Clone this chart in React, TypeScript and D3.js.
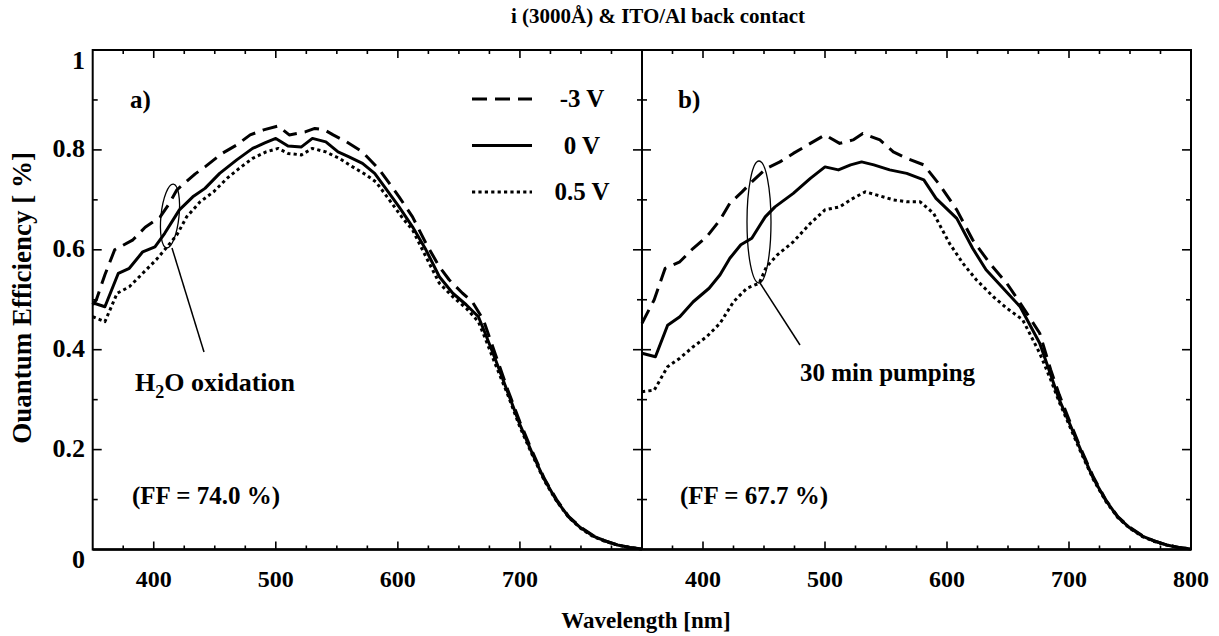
import React from "react";
import * as d3 from "d3";

type Pt = [number, number];

const titleText = "i (3000Å) & ITO/Al back contact";
const xTicksA = [400, 500, 600, 700];
const xTicksB = [400, 500, 600, 700, 800];
const yTickLabels = ["0", "0.2", "0.4", "0.6", "0.8", "1"];
const yTickValues = [0, 0.2, 0.4, 0.6, 0.8, 1];
const legendLabels = ["-3 V", "0 V", "0.5 V"];

const aNeg3: Pt[] = [[350,0.49],[353,0.5],[360,0.55],[368,0.6],[383,0.62],[393,0.645],[405,0.665],[412,0.69],[419,0.72],[434,0.752],[442,0.766],[456,0.793],[468,0.81],[479,0.83],[490,0.84],[502,0.848],[511,0.83],[524,0.836],[532,0.843],[540,0.84],[547,0.83],[558,0.816],[571,0.796],[585,0.76],[601,0.706],[612,0.666],[623,0.613],[634,0.566],[642,0.54],[653,0.513],[661,0.496],[670,0.46],[680,0.39],[690,0.32],[700,0.255],[710,0.197],[720,0.142],[730,0.1],[740,0.066],[750,0.044],[760,0.028],[770,0.017],[780,0.009],[790,0.004],[800,0.001]];
const a0V: Pt[] = [[350,0.494],[360,0.486],[371,0.553],[380,0.563],[391,0.596],[401,0.606],[409,0.633],[421,0.68],[432,0.706],[442,0.723],[454,0.753],[468,0.78],[481,0.803],[491,0.814],[500,0.823],[510,0.808],[521,0.806],[530,0.823],[541,0.816],[551,0.796],[560,0.786],[571,0.773],[581,0.753],[590,0.723],[601,0.686],[612,0.646],[623,0.6],[634,0.546],[645,0.513],[656,0.49],[666,0.466],[672,0.43],[680,0.38],[690,0.315],[700,0.25],[710,0.193],[720,0.14],[730,0.098],[740,0.065],[750,0.043],[760,0.027],[770,0.017],[780,0.009],[790,0.004],[800,0.001]];
const aPos05: Pt[] = [[350,0.466],[360,0.456],[370,0.513],[380,0.526],[391,0.553],[402,0.58],[410,0.603],[419,0.63],[427,0.666],[438,0.696],[449,0.716],[460,0.743],[470,0.763],[481,0.783],[492,0.796],[502,0.803],[510,0.793],[521,0.79],[530,0.803],[541,0.796],[552,0.783],[563,0.766],[574,0.75],[582,0.736],[593,0.7],[604,0.663],[612,0.64],[623,0.586],[634,0.533],[645,0.506],[656,0.483],[666,0.456],[672,0.42],[680,0.37],[690,0.31],[700,0.245],[710,0.19],[720,0.138],[730,0.097],[740,0.064],[750,0.042],[760,0.026],[770,0.016],[780,0.009],[790,0.004],[800,0.001]];

const bNeg3: Pt[] = [[350,0.453],[360,0.5],[369,0.563],[381,0.576],[392,0.603],[403,0.626],[414,0.66],[422,0.693],[432,0.716],[440,0.736],[452,0.763],[463,0.776],[474,0.793],[488,0.813],[500,0.83],[512,0.813],[523,0.82],[531,0.833],[545,0.82],[556,0.796],[567,0.783],[581,0.77],[594,0.73],[608,0.68],[621,0.62],[635,0.573],[649,0.533],[662,0.486],[676,0.433],[685,0.36],[692,0.31],[700,0.26],[710,0.2],[720,0.145],[730,0.1],[740,0.066],[750,0.044],[760,0.028],[770,0.017],[780,0.009],[790,0.004],[800,0.001]];
const b0V: Pt[] = [[350,0.393],[361,0.386],[371,0.449],[381,0.466],[392,0.496],[405,0.523],[414,0.55],[422,0.583],[431,0.61],[440,0.623],[451,0.666],[459,0.686],[474,0.713],[488,0.743],[500,0.766],[511,0.76],[521,0.77],[530,0.776],[540,0.77],[553,0.76],[567,0.753],[581,0.74],[591,0.703],[608,0.663],[621,0.603],[632,0.56],[646,0.523],[660,0.486],[676,0.413],[685,0.35],[692,0.3],[700,0.255],[710,0.197],[720,0.142],[730,0.099],[740,0.065],[750,0.043],[760,0.027],[770,0.017],[780,0.009],[790,0.004],[800,0.001]];
const bPos05: Pt[] = [[350,0.316],[360,0.319],[371,0.366],[381,0.383],[392,0.406],[403,0.426],[414,0.453],[425,0.496],[436,0.523],[446,0.533],[452,0.566],[461,0.59],[474,0.616],[488,0.653],[500,0.68],[512,0.686],[523,0.703],[533,0.716],[542,0.71],[556,0.7],[567,0.696],[578,0.696],[589,0.673],[602,0.613],[613,0.573],[624,0.54],[638,0.506],[649,0.483],[662,0.46],[676,0.393],[685,0.34],[692,0.295],[700,0.25],[710,0.193],[720,0.14],[730,0.097],[740,0.064],[750,0.042],[760,0.026],[770,0.016],[780,0.009],[790,0.004],[800,0.001]];

const W = 1219, H = 636;
const FONT = "'Liberation Serif', 'Times New Roman', serif";
const TOP = 50, BOT = 549.5;
const A_L = 92.7, A_R = 642, B_L = 642, B_R = 1191;

const yScale = d3.scaleLinear().domain([0, 1]).range([BOT, TOP]);
const xA = d3.scaleLinear().domain([350, 800]).range([A_L, A_R]);
const xB = d3.scaleLinear().domain([350, 800]).range([B_L, B_R]);

const styles = [
  { dash: "15,8", w: 3 },
  { dash: undefined as string | undefined, w: 3 },
  { dash: "3.2,3.2", w: 3 },
];

function Panel({ x, series }: { x: d3.ScaleLinear<number, number>; series: Pt[][] }) {
  const line = d3.line<Pt>().x((d) => x(d[0])).y((d) => yScale(d[1]));
  const xt = d3.range(375, 800, 25);
  const yt = d3.range(1, 10).map((i) => i / 10);
  const [x0, x1] = x.range();
  return (
    <g>
      {series.map((s, i) => (
        <path key={i} d={line(s) || ""} fill="none" stroke="#000" strokeWidth={styles[i].w}
          strokeDasharray={styles[i].dash} strokeLinejoin="round" />
      ))}
      {xt.map((t) => {
        const len = t % 100 === 0 ? 8 : 4;
        return (
          <g key={t}>
            <line x1={x(t)} x2={x(t)} y1={BOT} y2={BOT - len} stroke="#000" strokeWidth={1.6} />
            <line x1={x(t)} x2={x(t)} y1={TOP} y2={TOP + len} stroke="#000" strokeWidth={1.6} />
          </g>
        );
      })}
      {yt.map((t, i) => {
        const len = (i + 1) % 2 === 0 ? 9 : 5;
        return (
          <g key={i}>
            <line x1={x0} x2={x0 + len} y1={yScale(t)} y2={yScale(t)} stroke="#000" strokeWidth={1.6} />
            <line x1={x1} x2={x1 - len} y1={yScale(t)} y2={yScale(t)} stroke="#000" strokeWidth={1.6} />
          </g>
        );
      })}
    </g>
  );
}

export default function App() {
  const bold = { fontFamily: FONT, fontWeight: 700 as const, fill: "#000" };
  return (
    <svg width={W} height={H} style={{ position: "absolute", left: 0, top: 0, background: "#fff" }}>
      <rect x={0} y={0} width={W} height={H} fill="#fff" />
      <text x={658} y={23} textAnchor="middle" fontSize={21} {...bold}>{titleText}</text>

      <Panel x={xA} series={[aNeg3, a0V, aPos05]} />
      <Panel x={xB} series={[bNeg3, b0V, bPos05]} />

      {/* frame */}
      <rect x={A_L} y={TOP} width={B_R - A_L} height={BOT - TOP} fill="none" stroke="#000" strokeWidth={2} />
      <line x1={A_R} x2={A_R} y1={TOP} y2={BOT} stroke="#000" strokeWidth={2} />
      <line x1={A_L} x2={B_R} y1={BOT} y2={BOT} stroke="#000" strokeWidth={2.5} />

      {/* y tick labels */}
      {yTickValues.map((v, i) => {
        let yy = yScale(v) + 7;
        if (v === 1) yy = yScale(v) + 19;
        if (v === 0) yy = yScale(v) + 18;
        return (
          <text key={i} x={85} y={yy} textAnchor="end" fontSize={26} {...bold}>{yTickLabels[i]}</text>
        );
      })}
      {/* x tick labels */}
      {xTicksA.map((t) => (
        <text key={"a" + t} x={xA(t)} y={587} textAnchor="middle" fontSize={24} {...bold}>{t}</text>
      ))}
      {xTicksB.map((t) => (
        <text key={"b" + t} x={xB(t)} y={587} textAnchor="middle" fontSize={24} {...bold}>{t}</text>
      ))}

      <text x={646} y={628} textAnchor="middle" fontSize={23} {...bold}>Wavelength [nm]</text>
      <text transform="translate(31,298) rotate(-90)" textAnchor="middle" fontSize={27} {...bold}>Ouantum Efficiency [ %]</text>

      {/* panel labels */}
      <text x={130} y={108} fontSize={25} {...bold}>a)</text>
      <text x={678} y={108} fontSize={25} {...bold}>b)</text>

      {/* legend */}
      {legendLabels.map((lab, i) => {
        const yy = 99 + i * 46.5;
        return (
          <g key={lab}>
            <line x1={472} x2={532} y1={yy} y2={yy} stroke="#000" strokeWidth={styles[i].w} strokeDasharray={styles[i].dash} />
            <text x={582} y={yy + 8} textAnchor="middle" fontSize={25} {...bold}>{lab}</text>
          </g>
        );
      })}

      {/* annotation a */}
      <ellipse cx={170} cy={216} rx={9} ry={32} fill="none" stroke="#000" strokeWidth={1.3} transform="rotate(6,170,216)" />
      <line x1={172} y1={248} x2={204} y2={352} stroke="#000" strokeWidth={1.5} />
      <text x={135} y={391} fontSize={26} {...bold}>
        H<tspan dy={7} fontSize={18}>2</tspan><tspan dy={-7}>O oxidation</tspan>
      </text>
      <text x={132} y={504} fontSize={25} {...bold}>(FF = 74.0 %)</text>

      {/* annotation b */}
      <ellipse cx={759} cy={222} rx={12} ry={61} fill="none" stroke="#000" strokeWidth={1.3} />
      <line x1={760} y1={283} x2={800} y2={345} stroke="#000" strokeWidth={1.5} />
      <text x={800} y={381} fontSize={25} {...bold}>30 min pumping</text>
      <text x={680} y={504} fontSize={25} {...bold}>(FF = 67.7 %)</text>
    </svg>
  );
}
